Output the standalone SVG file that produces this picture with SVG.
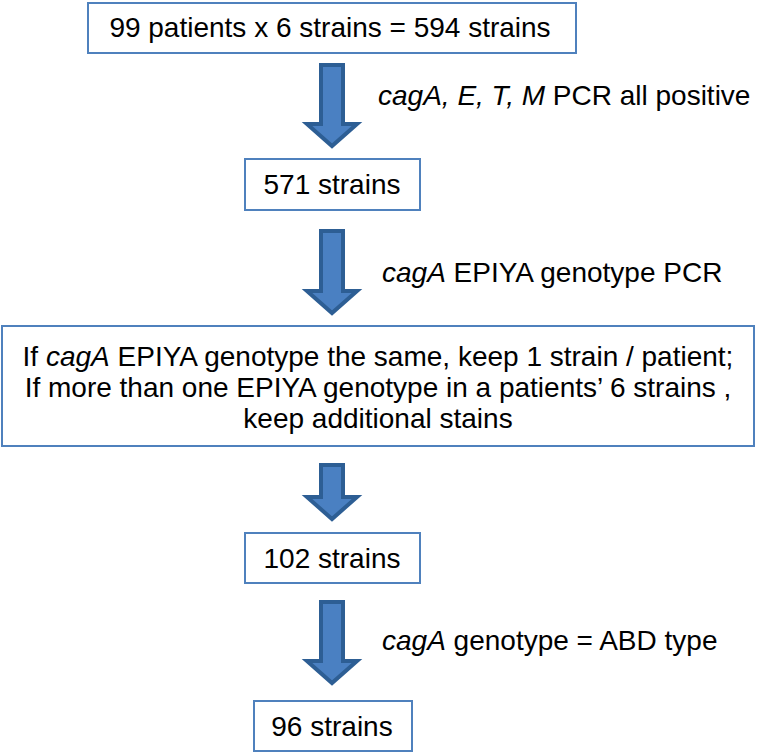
<svg xmlns="http://www.w3.org/2000/svg" width="758" height="753" viewBox="0 0 758 753">
<style>
.box{fill:#ffffff;stroke:#4f81bd;stroke-width:2}
.t{font-family:"Liberation Sans",Arial,sans-serif;font-size:28px;fill:#000000}
.c{text-anchor:middle}
.lbl{font-family:"Liberation Sans",Arial,sans-serif;font-size:28px;fill:#000000}
.arr{fill:#4a80c2;stroke:#2d5e94;stroke-width:4;stroke-linejoin:miter}
</style>
<rect width="758" height="753" fill="#ffffff"/>
<g id="n1"><rect class="box" x="88" y="3" width="488" height="50"/><text class="t c" x="330" y="37">99 patients x 6 strains = 594 strains</text></g>
<g id="n2"><rect class="box" x="245" y="159" width="175" height="51"/><text class="t c" x="332" y="194">571 strains</text></g>
<g id="n3"><rect class="box" x="2" y="326" width="752" height="120"/>
<text class="t c" x="378" y="366" font-size="28.3">If <tspan font-style="italic">cagA</tspan> EPIYA genotype the same, keep 1 strain / patient;</text>
<text class="t c" x="378" y="397" font-size="28.3">If more than one EPIYA genotype in a patients’ 6 strains ,</text>
<text class="t c" x="378" y="428">keep additional stains</text></g>
<g id="n4"><rect class="box" x="245" y="533" width="175" height="50"/><text class="t c" x="332" y="568">102 strains</text></g>
<g id="n5"><rect class="box" x="254" y="701" width="158" height="50"/><text class="t c" x="332" y="736">96 strains</text></g>
<g id="connectors">
<polygon class="arr" points="321,65 343,65 343,124 357,124 332,146 307,124 321,124"/>
<polygon class="arr" points="321,231 343,231 343,291 357,291 332,313 307,291 321,291"/>
<polygon class="arr" points="321,465 343,465 343,497 357,497 332,519 307,497 321,497"/>
<polygon class="arr" points="321,602 343,602 343,661 357,661 332,683 307,661 321,661"/>
<text class="lbl" x="378" y="105"><tspan font-style="italic">cagA, E, T, M</tspan> PCR all positive</text>
<text class="lbl" x="382" y="282" font-size="26"><tspan font-style="italic">cagA</tspan> EPIYA genotype PCR</text>
<text class="lbl" x="382" y="650"><tspan font-style="italic">cagA</tspan> genotype = ABD type</text>
</g>
</svg>
